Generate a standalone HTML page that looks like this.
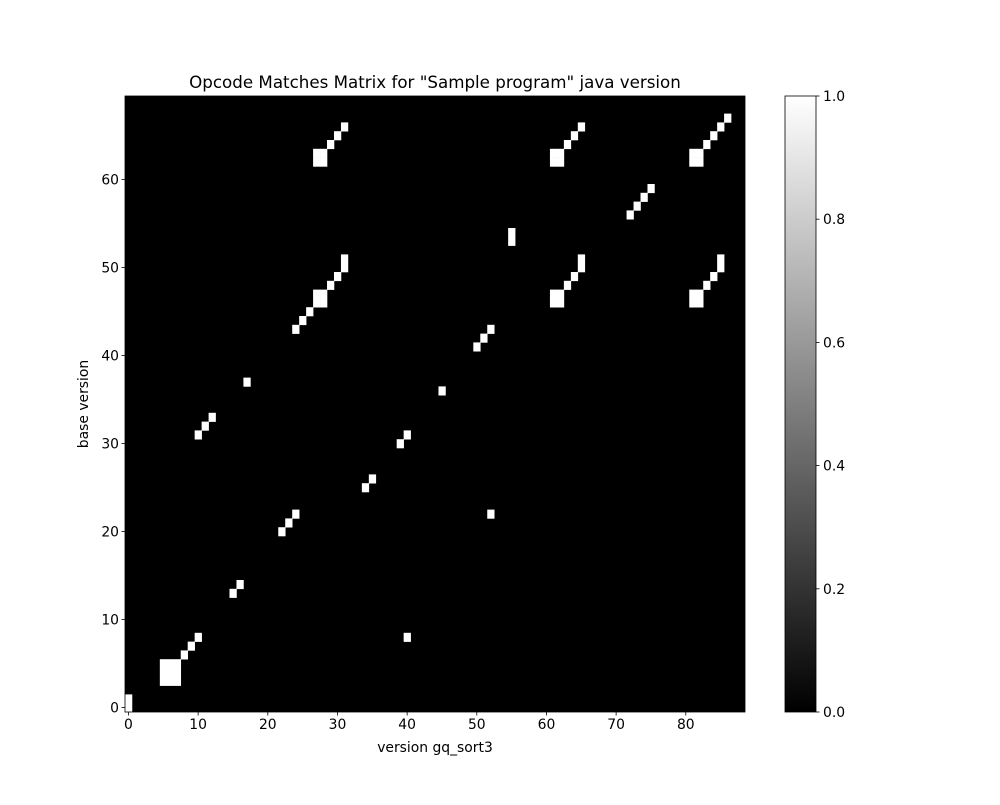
<!DOCTYPE html>
<html><head><meta charset="utf-8"><style>
body{margin:0;background:#fff;font-family:"Liberation Sans","DejaVu Sans",sans-serif}
text{font-family:"DejaVu Sans","Liberation Sans",sans-serif}
</style></head><body>
<svg id="chart" width="1000" height="800" xmlns="http://www.w3.org/2000/svg">
<rect width="1000" height="800" fill="#fff"/>
<text x="435" y="88" font-size="16.7" text-anchor="middle">Opcode Matches Matrix for "Sample program" java version</text>
<g id="plot"></g>
<text x="435" y="752" font-size="13.9" text-anchor="middle">version gq_sort3</text>
<text x="88" y="404" font-size="13.9" text-anchor="middle" transform="rotate(-90 88 404)">base version</text>
<defs><linearGradient id="cg" x1="0" y1="1" x2="0" y2="0"><stop offset="0" stop-color="#000"/><stop offset="1" stop-color="#fff"/></linearGradient></defs>
<rect x="785" y="96" width="31" height="616" fill="url(#cg)" stroke="#000" stroke-width="0.8"/>
<g id="cbticks"></g>
</svg>
<script>
const nCols = 89, nRows = 70;
const cellX = [0,0, 5,6,7,5,6,7,5,6,7, 8,9,10, 15,16, 22,23,24, 34,35, 10,11,12, 39,40, 40, 52, 17, 45, 50,51,52,
 24,25,26,27,28,27,28,29,30,31,31, 55,55, 72,73,74,75,
 27,28,27,28,29,30,31, 61,62,61,62,63,64,65, 81,82,81,82,83,84,85,86,
 61,62,61,62,63,64,65,65, 81,82,81,82,83,84,85,85];
const cellY = [0,1, 3,3,3,4,4,4,5,5,5, 6,7,8, 13,14, 20,21,22, 25,26, 31,32,33, 30,31, 8, 22, 37, 36, 41,42,43,
 43,44,45,46,46,47,47,48,49,50,51, 53,54, 56,57,58,59,
 62,62,63,63,64,65,66, 62,62,63,63,64,65,66, 62,62,63,63,64,65,66,67,
 46,46,47,47,48,49,50,51, 46,46,47,47,48,49,50,51];
const xTicks = [0,10,20,30,40,50,60,70,80];
const yTicks = [0,10,20,30,40,50,60];
const cbTicks = [0.0,0.2,0.4,0.6,0.8,1.0];
const L=125,R=745,T=96,B=712;
const xs = v => L + (v+0.5)*(R-L)/nCols;
const ys = v => B - (v+0.5)*(B-T)/nRows;
const NS="http://www.w3.org/2000/svg";
const g=document.getElementById('plot');
function mk(tag,at,parent){const e=document.createElementNS(NS,tag);for(const k in at)e.setAttribute(k,at[k]);parent.appendChild(e);return e;}
const bg=mk('rect',{x:L,y:T,width:R-L,height:B-T,fill:'#000'},g);


const cw=(R-L)/nCols, ch=(B-T)/nRows;
for(let i=0;i<cellX.length;i++){
  const r=mk('rect',{x:xs(cellX[i]-0.5),y:ys(cellY[i]+0.5),width:cw+0.3,height:ch+0.3,fill:'#fff'},g);
  
  
}
const fr=mk('rect',{x:L,y:T,width:R-L,height:B-T,fill:'none',stroke:'#000','stroke-width':0.8},g);


xTicks.forEach(t=>{const x=xs(t);
  mk('line',{x1:x,x2:x,y1:B,y2:B+3.5,stroke:'#000','stroke-width':0.8},g);
  const tx=mk('text',{x:x,y:B+17,'font-size':13.9,'text-anchor':'middle'},g);tx.textContent=t;
  
  });
yTicks.forEach(t=>{const y=ys(t);
  mk('line',{x1:L-3.5,x2:L,y1:y,y2:y,stroke:'#000','stroke-width':0.8},g);
  const tx=mk('text',{x:L-6,y:y+5,'font-size':13.9,'text-anchor':'end'},g);tx.textContent=t;
  
  });
const cb=document.getElementById('cbticks');
cbTicks.forEach(t=>{const y=712-t*616;
  mk('line',{x1:816,x2:819.5,y1:y,y2:y,stroke:'#000','stroke-width':0.8},cb);
  const tx=mk('text',{x:823,y:y+5,'font-size':13.9},cb);tx.textContent=t.toFixed(1);
  
  });
</script>
</body></html>
